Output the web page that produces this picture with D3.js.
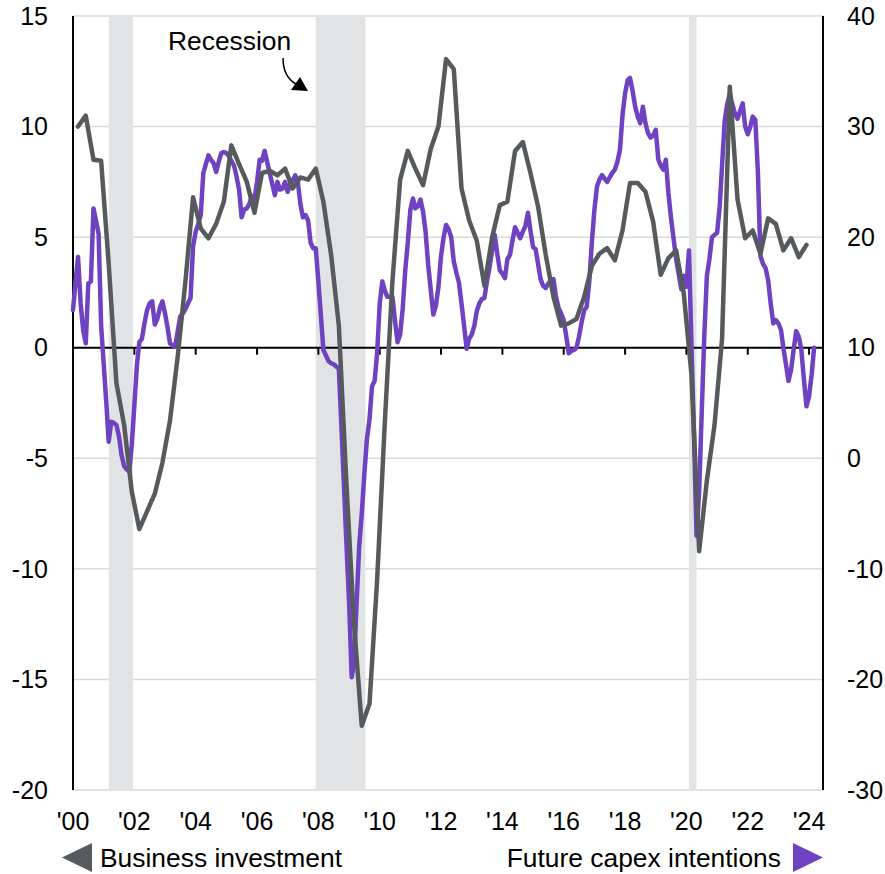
<!DOCTYPE html>
<html><head><meta charset="utf-8">
<script src="https://cdn.jsdelivr.net/npm/d3@7"></script>
<style>
body{margin:0;background:#fff}
svg{display:block}
text{font-family:"Liberation Sans",Arial,Helvetica,sans-serif;fill:#000}
</style>
</head><body>
<svg id="chart" width="885" height="874"></svg>
<script>
// Business investment, % y/y, quarterly from 2000Q1 (left axis)
const businessInvestment = [
  10.0, 10.5, 8.5, 8.45,
  3.8, -1.6, -3.5, -6.5,
  -8.2, -7.4, -6.6, -5.2,
  -3.3, -0.4, 3.0, 6.8,
  5.4, 4.95, 5.6, 6.6,
  9.15, 8.3, 7.5, 6.1,
  7.9, 8.0, 7.8, 8.1,
  7.2, 7.7, 7.6, 8.1,
  6.6, 4.2, 1.0, -6.2,
  -12.5, -17.1, -16.1, -10.5,
  -3.5, 3.0, 7.6, 8.9,
  8.1, 7.35, 9.0, 10.0,
  13.05, 12.6, 7.2, 5.75,
  4.85, 2.8, 5.0, 6.45,
  6.6, 8.9, 9.3, 7.9,
  6.4, 4.2, 2.3, 1.0,
  1.1, 1.3, 2.3, 3.7,
  4.25, 4.5, 3.95, 5.3,
  7.45, 7.45, 7.05, 5.7,
  3.3, 4.05, 4.4, 2.45,
  -1.2, -9.2, -6.0, -3.5,
  0.4, 11.8, 6.7, 4.95,
  5.3, 4.25, 5.85, 5.6,
  4.4, 4.95, 4.1, 4.65
];
// Future capex intentions, monthly from Jan 2000 (right axis)
const capexIntentions = [
  13.4, 16.0, 18.2, 14.0, 11.6, 10.4, 15.8, 16.0, 22.6, 21.5, 20.3, 12.0,
  8.5, 5.0, 1.5, 3.3, 3.2, 3.0, 2.0, 0.3, -0.7, -1.0, -1.2, 1.2,
  4.8, 8.5, 10.5, 10.8, 12.2, 13.4, 14.0, 14.2, 12.1, 12.6, 13.6, 14.2,
  13.1, 11.8, 10.4, 10.2, 10.1, 11.5, 12.8, 13.1, 13.5, 14.0, 14.5, 19.2,
  20.5, 21.2, 22.0, 25.8, 26.6, 27.4, 27.0, 26.7, 25.9, 26.8, 27.6, 27.7,
  27.6, 27.3, 26.9, 26.5, 25.5, 24.3, 21.8, 22.5, 22.6, 23.0, 23.7, 23.4,
  25.0, 27.0, 26.9, 27.8, 26.8, 25.8, 24.8, 23.8, 25.0, 24.3, 24.4, 25.0,
  24.1, 24.8, 25.1, 25.6, 25.0, 23.0, 21.8, 22.0, 21.5, 19.5, 19.0, 19.0,
  16.0, 12.8, 9.8, 9.3, 8.8, 8.6, 8.5, 8.3, 8.1, 3.0, -2.5, -7.8,
  -13.0, -19.8, -18.5, -13.0, -8.0, -5.0, -1.5, 1.7, 3.5, 6.5, 7.0, 9.5,
  14.0, 16.0, 15.2, 14.6, 14.6, 14.6, 12.5, 10.5, 11.2, 13.5, 17.0, 19.5,
  22.5, 23.5, 22.6, 22.8, 23.4, 22.3, 20.5, 17.5, 15.2, 13.0, 13.8, 15.5,
  18.3, 20.0, 21.1, 20.7, 20.0, 17.8, 16.8, 15.9, 14.0, 12.0, 9.9, 10.8,
  11.2, 12.0, 13.3, 14.0, 14.4, 14.5, 16.0, 17.3, 18.8, 20.2, 18.5, 17.0,
  16.7, 16.3, 18.0, 18.4, 19.7, 20.9, 20.4, 19.9, 20.5, 21.0, 22.2, 20.6,
  19.1, 18.9, 17.6, 16.2, 15.6, 15.4, 15.8, 16.1, 16.2, 14.6, 13.6, 13.1,
  12.5, 11.0, 9.5, 9.7, 9.8, 10.0, 11.0, 12.3, 13.4, 13.7, 16.0, 19.5,
  22.5, 24.6, 25.2, 25.6, 25.3, 25.0, 25.4, 25.8, 26.1, 26.8, 27.9, 31.0,
  33.0, 34.2, 34.4, 33.2, 31.8, 30.9, 30.3, 31.8, 30.3, 29.4, 29.0, 29.2,
  29.7, 27.0, 26.5, 26.1, 27.0, 24.0, 21.8, 19.9, 18.0, 16.7, 15.3, 16.5,
  15.5, 18.8, 10.4, 2.0, -7.0, -3.0, 4.0, 11.0, 16.5, 18.0, 20.0, 20.2,
  20.4, 22.8, 26.5, 30.5, 32.0, 33.0, 32.0, 31.2, 30.7, 31.4, 32.1, 30.0,
  29.3, 30.0, 30.9, 30.6, 26.0, 18.3, 17.6, 17.2, 16.1, 14.0, 12.2, 12.5,
  12.2, 11.6, 10.0, 8.5, 7.0, 8.0, 9.8, 11.5, 11.0, 9.8, 7.1, 4.7,
  5.6, 7.6, 10.0
];
const recessionStarts = ["2001-03-01", "2007-12-01", "2020-02-01"];
const recessionEnds   = ["2001-12-15", "2009-07-15", "2020-05-01"];
const leftTicks  = [15, 10, 5, 0, -5, -10, -15, -20];
const rightTicks = [40, 30, 20, 10, 0, -10, -20, -30];
const yearTicks  = [2000, 2002, 2004, 2006, 2008, 2010, 2012, 2014, 2016, 2018, 2020, 2022, 2024];
const yearLabels = ["'00", "'02", "'04", "'06", "'08", "'10", "'12", "'14", "'16", "'18", "'20", "'22", "'24"];
const seriesNames = ["Business investment", "Future capex intentions"];
const annotation = "Recession";

const GREY = "#575a5d", PURPLE = "#6f42c1", BAND = "#e2e3e5", GRID = "#d9d9d9";
const svg = d3.select("#chart");
const L = 73, R = 823, T = 16, B = 790;

const x = d3.scaleTime().domain([new Date(2000, 0, 1), new Date(2024, 5, 15)]).range([L, R]);
const yL = d3.scaleLinear().domain([-20, 15]).range([B, T]);
const yR = d3.scaleLinear().domain([-30, 40]).range([B, T]);

const bizData = businessInvestment.map((v, k) => ({d: new Date(2000, 3 * k + 2, 1), v}));
const capexData = capexIntentions.map((v, m) => ({d: new Date(2000, m, 1), v}));

// gridlines
svg.append("g").selectAll("line").data(leftTicks.filter(t => t !== 0)).join("line")
  .attr("x1", L).attr("x2", R).attr("y1", d => yL(d)).attr("y2", d => yL(d))
  .attr("stroke", GRID).attr("stroke-width", 1.5);

// recession bands
svg.append("g").selectAll("rect").data(recessionStarts.map((s, i) => [new Date(s), new Date(recessionEnds[i])])).join("rect")
  .attr("x", d => x(d[0])).attr("width", d => x(d[1]) - x(d[0]))
  .attr("y", T).attr("height", B - T).attr("fill", BAND);

// zero line with ticks
svg.append("line").attr("x1", L).attr("x2", R).attr("y1", yL(0)).attr("y2", yL(0))
  .attr("stroke", "#000").attr("stroke-width", 2);
svg.append("g").selectAll("line").data(yearTicks.slice(1)).join("line")
  .attr("x1", d => x(new Date(d, 0, 1))).attr("x2", d => x(new Date(d, 0, 1)))
  .attr("y1", yL(0)).attr("y2", yL(0) + 7)
  .attr("stroke", "#000").attr("stroke-width", 2);

// vertical axis lines
svg.append("line").attr("x1", L).attr("x2", L).attr("y1", T).attr("y2", B).attr("stroke", "#000").attr("stroke-width", 2);
svg.append("line").attr("x1", R).attr("x2", R).attr("y1", T).attr("y2", B).attr("stroke", "#000").attr("stroke-width", 2);

// axis labels
const FS = 25;
svg.append("g").selectAll("text").data(leftTicks).join("text")
  .attr("x", 48).attr("y", d => yL(d)).attr("dy", "0.35em")
  .attr("text-anchor", "end").attr("font-size", FS).text(d => d);
svg.append("g").selectAll("text").data(rightTicks).join("text")
  .attr("x", 847).attr("y", d => yR(d)).attr("dy", "0.35em")
  .attr("text-anchor", "start").attr("font-size", FS).text(d => d);
svg.append("g").selectAll("text").data(yearTicks).join("text")
  .attr("x", d => x(new Date(d, 0, 1))).attr("y", 830)
  .attr("text-anchor", "middle").attr("font-size", FS).text((d, i) => yearLabels[i]);

// lines
const lineL = d3.line().x(d => x(d.d)).y(d => yL(d.v));
const lineR = d3.line().x(d => x(d.d)).y(d => yR(d.v));
svg.append("path").datum(capexData).attr("d", lineR).attr("fill", "none")
  .attr("stroke", PURPLE).attr("stroke-width", 4.5).attr("stroke-linejoin", "round").attr("stroke-linecap", "round");
svg.append("path").datum(bizData).attr("d", lineL).attr("fill", "none")
  .attr("stroke", GREY).attr("stroke-width", 4.5).attr("stroke-linejoin", "round").attr("stroke-linecap", "round");

// annotation
svg.append("text").attr("x", 168).attr("y", 50).attr("font-size", 26.4).text(annotation);
svg.append("path").attr("d", "M283,58 C283,71 287,79 296,84").attr("fill", "none").attr("stroke", "#000").attr("stroke-width", 1.5);
svg.append("path").attr("d", "M308,91 L291,90 L300,77 Z").attr("fill", "#000");

// legend
svg.append("path").attr("d", "M62,857.5 L92,843 L92,872 Z").attr("fill", GREY);
svg.append("text").attr("x", 100).attr("y", 867).attr("font-size", 26.4).text(seriesNames[0]);
svg.append("path").attr("d", "M823,857.5 L793,843 L793,872 Z").attr("fill", PURPLE);
svg.append("text").attr("x", 781).attr("y", 867).attr("text-anchor", "end").attr("font-size", 26.4).text(seriesNames[1]);
</script>
</body></html>
